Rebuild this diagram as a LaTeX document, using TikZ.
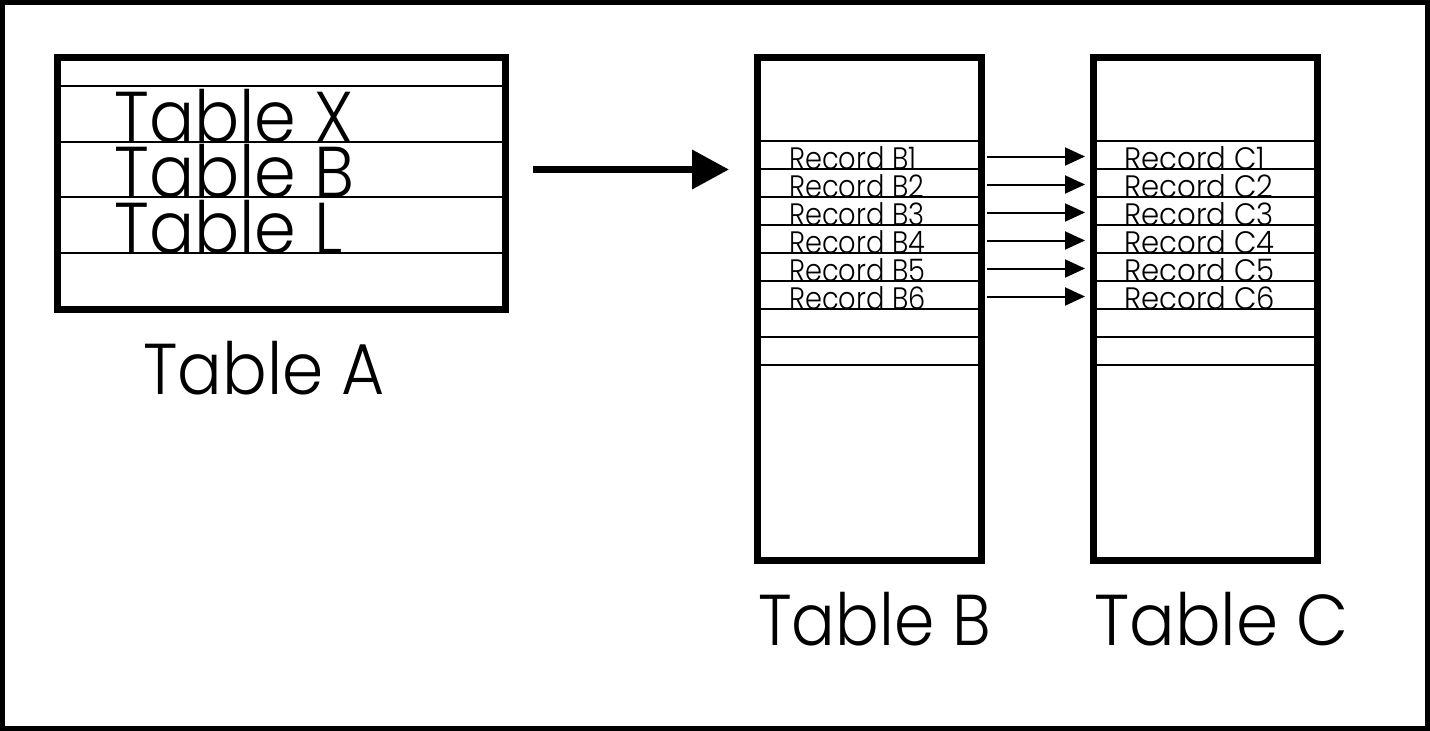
\documentclass[tikz,border=0pt]{standalone}
\usepackage{fontspec}
\setmainfont{Poppins}[UprightFont=* Light]
\usetikzlibrary{arrows.meta}
\newcommand\sqz[2]{\scalebox{#1}[1]{#2}}
\begin{document}
\begin{tikzpicture}[x=1pt,y=-1pt,
  tbl/.style={draw, line width=7pt, inner sep=0pt, outer sep=0pt, anchor=center},
  rowline/.style={line width=1.3pt},
  bigtxt/.style={anchor=base west, inner sep=0pt, font=\fontsize{72}{72}\selectfont},
  rectxt/.style={anchor=base west, inner sep=0pt, font=\fontsize{31}{31}\selectfont},
  bigarrow/.style={line width=7pt, -{Triangle[length=37pt,width=38pt]}},
  smallarrow/.style={line width=2pt, -{Triangle[length=20pt,width=18pt]}}
]
\useasboundingbox (0,0) rectangle (1430,731);
\draw[line width=5pt] (2.5,2.5) rectangle (1427.5,728.5);

% Table A
\foreach \y in {86,142,197,253} \draw[rowline] (57,\y) -- (505,\y);
\node[tbl, minimum width=448pt, minimum height=252pt] (tA) at (281,183) {};
\node[bigtxt] (ax) at (114,142) {\sqz{0.93}{Table X}};
\node[bigtxt] (ab) at (114,197) {\sqz{0.93}{Table B}};
\node[bigtxt] (al) at (114,253) {\sqz{0.93}{Table L}};
\node[bigtxt] (labA) at (143,394) {\sqz{0.92}{Table A}};

% Table B and C
\foreach \y in {141,169,197,225,253,281,309,337,365} {
  \draw[rowline] (757,\y) -- (981,\y);
  \draw[rowline] (1093,\y) -- (1317,\y);
}
\node[tbl, minimum width=224pt, minimum height=503pt] (tB) at (869,308.5) {};
\node[tbl, minimum width=224pt, minimum height=503pt] (tC) at (1205,308.5) {};
\node[bigtxt] (labB) at (758,645) {\sqz{0.90}{Table B}};
\node[bigtxt] (labC) at (1094,645) {\sqz{0.94}{Table C}};

\foreach \i in {1,...,6} {
  \pgfmathsetmacro{\yb}{169+28*(\i-1)}
  \pgfmathsetmacro{\ya}{156.5+28*(\i-1)}
  \node[rectxt] (rB\i) at (789,\yb) {\sqz{0.88}{Record B\i}};
  \node[rectxt] (rC\i) at (1124,\yb) {\sqz{0.94}{Record C\i}};
  \coordinate (s\i) at (987,\ya);
  \coordinate (e\i) at (1085,\ya);
  \draw[smallarrow] (s\i) -- (e\i);
}

% big arrow
\coordinate (a1) at (533,169.5);
\coordinate (a2) at (729,169.5);
\draw[bigarrow] (a1) -- (a2);
\end{tikzpicture}
\end{document}
